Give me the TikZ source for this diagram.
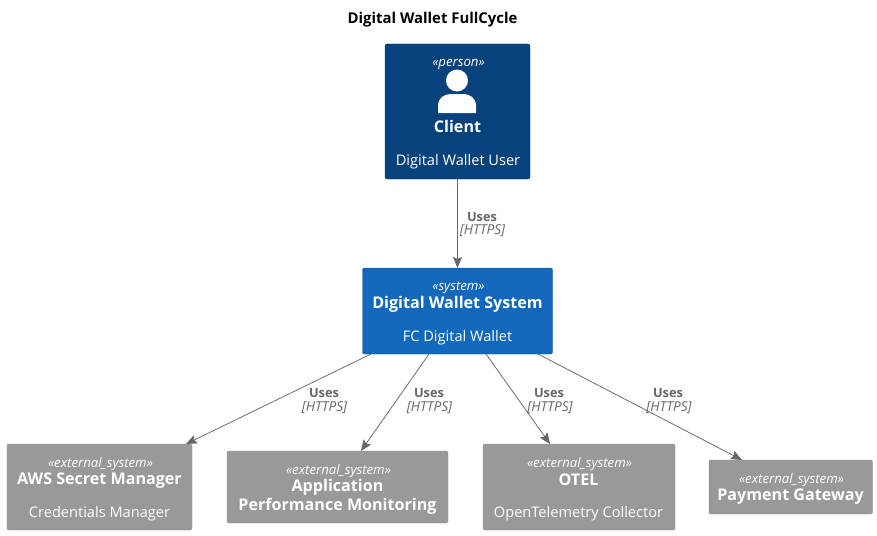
\documentclass[tikz,border=0pt]{standalone}
\usepackage{fontspec}
\setmainfont{Open Sans}
\usetikzlibrary{arrows.meta}
\definecolor{personc}{HTML}{08427B}
\definecolor{systemc}{HTML}{1168BD}
\definecolor{extc}{HTML}{999999}
\definecolor{linec}{HTML}{666666}
\tikzset{
  box/.style={inner sep=0pt,outer sep=0pt,rounded corners=2pt,anchor=north west},
  personbox/.style={box,fill=personc,draw=personc!85!black,line width=.4pt},
  systembox/.style={box,fill=systemc,draw=systemc!85!black,line width=.4pt},
  extbox/.style={box,fill=extc,draw=extc!90!black,line width=.4pt},
  stereo/.style={text=white,font=\fontsize{13.2}{15}\selectfont\itshape,inner sep=0pt},
  boxtitle/.style={text=white,font=\fontsize{16.1}{19}\selectfont\bfseries,inner sep=0pt,align=center},
  descr/.style={text=white,font=\fontsize{14.6}{17}\selectfont,inner sep=0pt},
  rel/.style={draw=linec,line width=.75pt,-{Stealth[length=11pt,width=9pt,inset=2pt]}},
  uses/.style={text=linec,font=\fontsize{12.8}{15}\selectfont\bfseries,inner sep=0pt},
  tech/.style={text=linec,font=\fontsize{13.6}{15}\selectfont\itshape,inner sep=0pt},
}
\begin{document}
\begin{tikzpicture}[x=1pt,y=-1pt]
\useasboundingbox (0,0) rectangle (877,535);
\node[text=black,font=\fontsize{14.9}{17}\selectfont\bfseries,inner sep=0pt] (title) at (432.5,20) {Digital Wallet FullCycle};
% boxes
\node[personbox,minimum width=145pt,minimum height=135pt] (client) at (385,44) {};
\node[systembox,minimum width=190pt,minimum height=86pt] (system) at (362.5,268) {};
\node[extbox,minimum width=185pt,minimum height=86pt] (aws) at (7,444) {};
\node[extbox,minimum width=221pt,minimum height=72pt] (apm) at (227,451) {};
\node[extbox,minimum width=192pt,minimum height=86pt] (otel) at (483,444) {};
\node[extbox,minimum width=163.5pt,minimum height=54pt] (pay) at (709,460) {};
% client contents
\node[stereo] (clientst) at (458.5,64) {«person»};
\fill[white] (457,80.5) circle (11);
\fill[white] (438,113) -- (438,106) .. controls (438,98) and (444,94) .. (451,94) -- (463,94) .. controls (470,94) and (476,98) .. (476,106) -- (476,113) -- cycle;
\node[boxtitle] (clientt) at (457.5,126.5) {Client};
\node[descr] (clientd) at (458,161.5) {Digital Wallet User};
% system contents
\node[stereo] (sysst) at (458.5,288) {«system»};
\node[boxtitle] (syst) at (457.5,304.5) {Digital Wallet System};
\node[descr] (sysd) at (457.5,337.5) {FC Digital Wallet};
% aws
\node[stereo] (awsst) at (100.5,464) {«external\_system»};
\node[boxtitle] (awst) at (99.5,480.5) {AWS Secret Manager};
\node[descr] (awsd) at (99.5,513.5) {Credentials Manager};
% apm
\node[stereo] (apmst) at (338.5,471) {«external\_system»};
\node[boxtitle] (apmt) at (337.5,497) {Application\\[-0.5pt]Performance Monitoring};
% otel
\node[stereo] (otelst) at (579.5,464) {«external\_system»};
\node[boxtitle] (otelt) at (578.5,480) {OTEL};
\node[descr] (oteld) at (578.5,513.5) {OpenTelemetry Collector};
% payment
\node[stereo] (payst) at (791.5,480) {«external\_system»};
\node[boxtitle] (payt) at (790.5,496.5) {Payment Gateway};
% connectors
\draw[rel] (client.south) -- (system.north);
\draw[rel] ([xshift=8.5pt]system.south west) -- ([xshift=179pt]aws.north west);
\draw[rel] ([xshift=66.5pt]system.south west) -- ([xshift=134pt]apm.north west);
\draw[rel] ([xshift=123.5pt]system.south west) -- ([xshift=67pt]otel.north west);
\draw[rel] ([xshift=175.5pt]system.south west) -- ([xshift=33pt]pay.north west);
% labels
\node[uses] (u0) at (482,217) {Uses};
\node[tech] (t0) at (482.5,231) {[HTTPS]};
\node[uses] (u1) at (324,393) {Uses};
\node[tech] (t1) at (324.5,407.5) {[HTTPS]};
\node[uses] (u2) at (429,393) {Uses};
\node[tech] (t2) at (429.5,407.5) {[HTTPS]};
\node[uses] (u3) at (549,393) {Uses};
\node[tech] (t3) at (550,407.5) {[HTTPS]};
\node[uses] (u4) at (668,393) {Uses};
\node[tech] (t4) at (669,407.5) {[HTTPS]};
\end{tikzpicture}
\end{document}
